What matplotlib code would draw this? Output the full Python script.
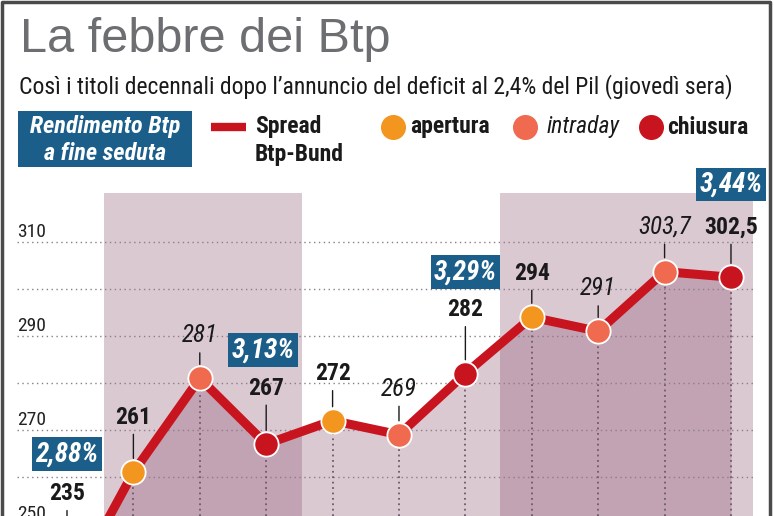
import matplotlib
matplotlib.use("Agg")
import matplotlib.pyplot as plt
from matplotlib.patches import Rectangle

# spread Btp-Bund (punti base), in ordine di tempo
spread = [235, 261, 281, 267, 272, 269, 282, 294, 291, 303.7, 302.5]
fase = ["chiusura", "apertura", "intraday", "chiusura", "apertura", "intraday",
        "chiusura", "apertura", "intraday", "intraday", "chiusura"]
etichette = ["235", "261", "281", "267", "272", "269", "282", "294", "291", "303,7", "302,5"]

# rendimento Btp a fine seduta
rendimento = ["2,88%", "3,13%", "3,29%", "3,44%"]

grid_vals = [250, 260, 270, 280, 290, 300, 310]
ytick_labels = [250, 270, 290, 310]

# --- layout ---
label_off = [101, 55, 43, 56, 47, 46, 64, 44, 43, 45, 50]   # pixel sopra il punto
box_pos = [(0, 264.9), (2.95, 287.0), (6, 303.6), (10, 322.2)]
bands = [(0.557, 3.54), (6.52, 10.33)]
band_top = 320.4
grid_x = (-0.753, 10.33)

colori = {"apertura": "#f3961f", "intraday": "#ef6a4e", "chiusura": "#c8141f"}
RED = "#c8141f"
BLUE = "#1b5e8a"
MAUVE = "#8a4e6c"
INK = "#1a1a1a"

plt.rcParams["font.family"] = ["Roboto Condensed", "DejaVu Sans"]

fig = plt.figure(figsize=(7.74, 5.16), dpi=100)
ax = fig.add_axes([0, 0, 1, 1])
ax.set_xlim(-1.009, 10.648)
ax.set_ylim(251.70, 361.49)
ax.axis("off")

x = list(range(len(spread)))
ybot = ax.get_ylim()[0]

# bande e area sotto la linea
for a, b in bands:
    ax.fill_between([a, b], ybot, band_top, color=MAUVE, alpha=0.3, lw=0, zorder=0)
ax.fill_between(x, spread, ybot, color=MAUVE, alpha=0.3, lw=0, zorder=1)

# griglia
ax.hlines(grid_vals, grid_x[0], grid_x[1], colors="#8d7d89",
          linestyles=(0, (1, 2.5)), lw=1, zorder=2)
ax.vlines(x, ybot, spread, colors="#6e5a68", linestyles=(0, (1, 2)), lw=1.3, zorder=2)
for v in ytick_labels:
    ax.text(grid_x[0], v + 1.1, str(v), fontsize=14, color="#222222",
            ha="left", va="baseline", zorder=3)

# linea spread
ax.plot(x, spread, color=RED, lw=6.5, zorder=3, solid_joinstyle="round")
for i, v in enumerate(spread):
    ax.plot(i, v, "o", ms=17.5, mfc=colori[fase[i]], mec="white", mew=1.3, zorder=4)
    intr = fase[i] == "intraday"
    ax.annotate(etichette[i], xy=(i, v), xytext=(0, label_off[i]), textcoords="offset pixels",
                ha="center", va="center", fontsize=18 if intr else 17, color=INK,
                fontweight="normal" if intr else "bold",
                fontstyle="italic" if intr else "normal",
                annotation_clip=False, zorder=5,
                arrowprops=dict(arrowstyle="-", color=INK, lw=1, shrinkA=2, shrinkB=10))

# box rendimento
for (bx, by), t in zip(box_pos, rendimento):
    ax.text(bx, by, t, ha="center", va="center", fontsize=19.5, fontweight="bold",
            fontstyle="italic", color="white", zorder=6, clip_on=False,
            bbox=dict(boxstyle="square,pad=0.12", fc=BLUE, ec="none"))

# --- intestazione e legenda (coordinate pixel) ---
ov = fig.add_axes([0, 0, 1, 1])
ov.set_xlim(0, 774)
ov.set_ylim(516, 0)
ov.axis("off")
ov.patch.set_alpha(0)

ov.text(20, 52, "La febbre dei Btp", fontsize=35, color="#6d6e71",
        family=["Liberation Sans", "DejaVu Sans"], va="baseline")
ov.text(19, 93, "Così i titoli decennali dopo l’annuncio del deficit al 2,4% del Pil (giovedì sera)",
        fontsize=17, color=INK, va="baseline")

ov.add_patch(Rectangle((18, 111), 174, 56, fc=BLUE, ec="none"))
ov.text(105, 127, "Rendimento Btp", ha="center", va="center", fontsize=17.5,
        fontweight="bold", fontstyle="italic", color="white")
ov.text(105, 153, "a fine seduta", ha="center", va="center", fontsize=17.5,
        fontweight="bold", fontstyle="italic", color="white")

ov.plot([211, 246], [127, 127], color=RED, lw=6, solid_capstyle="butt")
ov.text(255, 127, "Spread", va="center", fontsize=17, fontweight="bold", color=INK)
ov.text(255, 154, "Btp-Bund", va="center", fontsize=17, fontweight="bold", color=INK)

legenda = [("apertura", 393, 410, "bold", "normal"),
           ("intraday", 525, 547, "normal", "italic"),
           ("chiusura", 651, 667, "bold", "normal")]
for nome, dx, tx, w, s in legenda:
    ov.plot(dx, 127, "o", ms=17, color=colori[nome])
    ov.text(tx, 127, nome, va="center", fontsize=17, fontweight=w, fontstyle=s, color=INK)

# cornice
ov.plot([1.5, 1.5, 770, 770], [516, 1.5, 1.5, 516], color="#4a4a4a", lw=2.5)

fig.savefig("out.png", dpi=100)
